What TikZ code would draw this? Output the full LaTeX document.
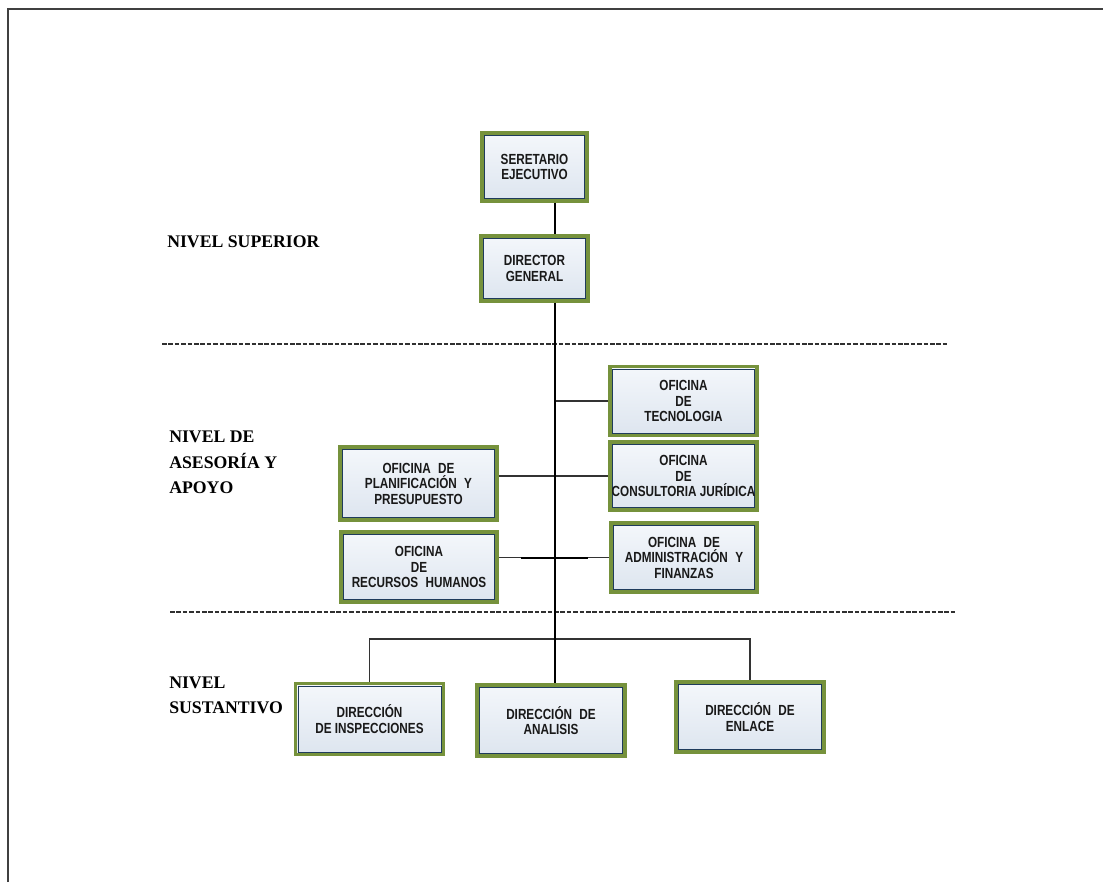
\documentclass[tikz,border=0pt]{standalone}
\usepackage{fontspec}
\setmainfont{Liberation Serif}
\newfontfamily\boxfont[FakeStretch=0.8]{Liberation Sans}
\newcommand{\dsp}{\hskip 0.5em\relax}
\usetikzlibrary{calc}
\definecolor{boxgreen}{HTML}{76923C}
\definecolor{boxnavy}{HTML}{1F3B5C}
\definecolor{boxtop}{HTML}{F4F7FB}
\definecolor{boxbot}{HTML}{DDE5EF}
\definecolor{framegray}{HTML}{404040}
\definecolor{dashgray}{HTML}{303030}
\begin{document}
\begin{tikzpicture}[x=0.75pt,y=-0.75pt,
  orgbox/.style={draw=boxgreen, line width=2.6pt, top color=boxtop, bottom color=boxbot,
    align=center, inner sep=0pt, text=black!90,
    font=\boxfont\bfseries\fontsize{11}{11.6}\selectfont,
    path picture={\draw[boxnavy, line width=0.6pt]
      ($(path picture bounding box.north west)+(1.8pt,-1.8pt)$) rectangle
      ($(path picture bounding box.south east)+(-1.8pt,1.8pt)$);}},
  sz/.style 2 args={minimum width=#1*0.75pt, minimum height=#2*0.75pt},
  spine/.style={draw=black, line width=2.1pt},
  conn/.style={draw=black!80, line width=0.8pt},
  dline/.style={draw=dashgray, line width=1pt, dash pattern=on 3.4pt off 1.4pt},
  lvl/.style={font=\bfseries\fontsize{13.3}{16}\selectfont, inner sep=0pt, anchor=base west, text=black}]
\useasboundingbox (0,0) rectangle (1103,882);
\fill[white] (0,0) rectangle (1103,882);
\draw[framegray, line width=1.4pt] (8,882) -- (8,9) -- (1103,9);

% level separators
\draw[dline] (162,344) -- (948,344);
\draw[dline] (170,612) -- (957,612);

% level labels
\node[lvl] (l1) at (167,247) {NIVEL SUPERIOR};
\node[lvl] (l2a) at (169,442) {NIVEL DE};
\node[lvl] (l2b) at (169,468) {ASESORÍA Y};
\node[lvl] (l2c) at (169,493) {APOYO};
\node[lvl] (l3a) at (169,688) {NIVEL};
\node[lvl] (l3b) at (169,713) {SUSTANTIVO};

% boxes
\node[orgbox, sz={105}{68}] (sec) at (534.5,167) {SERETARIO\\EJECUTIVO};
\node[orgbox, sz={107}{65}] (dir) at (534.5,268.5) {DIRECTOR\\GENERAL};
\node[orgbox, sz={147}{69}] (tec) at (683.5,401) {OFICINA\\DE\\TECNOLOGIA};
\node[orgbox, sz={147}{68}] (jur) at (683.5,476) {OFICINA\\DE\\CONSULTORIA JURÍDICA};
\node[orgbox, sz={146}{69}] (adm) at (684,557.5) {OFICINA\dsp DE\\ADMINISTRACIÓN\dsp Y\\FINANZAS};
\node[orgbox, sz={157}{73}] (pla) at (418.5,483.5) {OFICINA\dsp DE\\PLANIFICACIÓN\dsp Y\\PRESUPUESTO};
\node[orgbox, sz={156}{70}] (rrhh) at (419,567) {OFICINA\\DE\\RECURSOS\dsp HUMANOS};
\node[orgbox, sz={148}{71}] (insp) at (369.5,719) {DIRECCIÓN\\DE INSPECCIONES};
\node[orgbox, sz={148}{71}] (ana) at (551,720.5) {DIRECCIÓN\dsp DE\\ANALISIS};
\node[orgbox, sz={148}{70}] (enl) at (750,717) {DIRECCIÓN\dsp DE\\ENLACE};

% connectors
\coordinate (sp) at (555,0);
\coordinate (bus) at (0,639);
\draw[conn] (tec.west) -- (tec.west -| sp);
\draw[conn] (pla.east |- jur.west) -- (jur.west);
\draw[conn] (rrhh.east |- adm.west) -- (adm.west);
\draw[draw=black, line width=1.5pt] ($(sp |- adm.west)+(-34,0)$) -- ($(sp |- adm.west)+(33,0)$);
\draw[conn] (insp.north) -- (insp.north |- bus) -- (enl.north |- bus) -- (enl.north);
\draw[spine] (sec.south -| sp) -- (dir.north -| sp);
\draw[spine] (dir.south -| sp) -- (ana.north -| sp);
\end{tikzpicture}
\end{document}
